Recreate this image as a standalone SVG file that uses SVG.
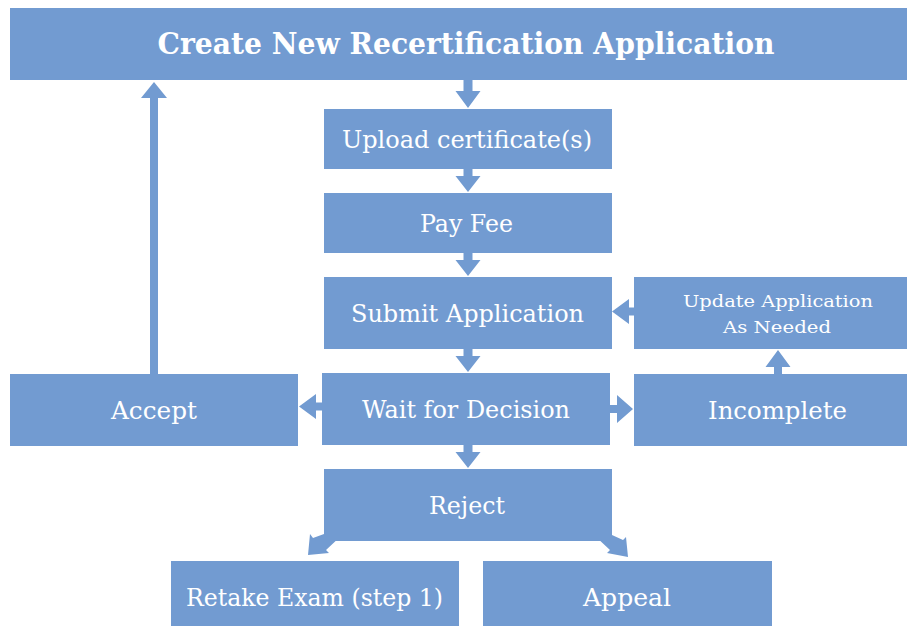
<svg xmlns="http://www.w3.org/2000/svg" width="907" height="626" viewBox="0 0 907 626">
<style>
.box{fill:#729BD1}
.arr{fill:#729BD1}
.t{fill:#FFFFFF;font-family:"DejaVu Serif","Liberation Serif",serif;font-size:24px;text-anchor:middle}
.ts{font-size:17.5px}
.tt{font-size:29px;font-weight:bold}
</style>
<rect width="907" height="626" fill="#FFFFFF"/>
<g id="connectors">
<path class="arr" d="M463.5,80 H472.5 V91 H480.5 L468,108 L455.5,91 H463.5 Z"/>
<path class="arr" d="M463.5,169 H472.5 V176 H480.5 L468,192 L455.5,176 H463.5 Z"/>
<path class="arr" d="M463.5,253 H472.5 V260 H480.5 L468,276 L455.5,260 H463.5 Z"/>
<path class="arr" d="M463.5,349 H472.5 V356 H480.5 L468,372 L455.5,356 H463.5 Z"/>
<path class="arr" d="M463.5,445 H472.5 V452 H480.5 L468,468 L455.5,452 H463.5 Z"/>
<path class="arr" d="M150,374 H158 V98 H167 L154,82 L141,98 H150 Z"/>
<path class="arr" d="M322,402.5 V410.5 H316 V419 L299,406.5 L316,394 V402.5 Z"/>
<path class="arr" d="M610,405 V413 H617 V423 L633,409 L617,395 V405 Z"/>
<path class="arr" d="M634,307.5 V315.5 H629 V324 L612,311.5 L629,299 V307.5 Z"/>
<path class="arr" d="M774,374 H782 V367 H790.5 L778,350 L765.5,367 H774 Z"/>
<path class="arr" d="M335,530 L341,536 L326,550 L329,553 L308,555 L310,534 L313,538 Z"/>
<path class="arr" d="M601,530 L595,536 L610,550 L607,553 L628,557 L626,537 L623,540 Z"/>
</g>
<g id="create">
<rect class="box" x="10" y="8" width="897" height="72"/>
<text class="t tt" x="466" y="54" textLength="617" lengthAdjust="spacingAndGlyphs">Create New Recertification Application</text>
</g>
<g id="upload">
<rect class="box" x="324" y="109" width="288" height="60"/>
<text class="t" x="467" y="148" textLength="250" lengthAdjust="spacingAndGlyphs">Upload certificate(s)</text>
</g>
<g id="payfee">
<rect class="box" x="324" y="193" width="288" height="60"/>
<text class="t" x="466.5" y="232" textLength="93" lengthAdjust="spacingAndGlyphs">Pay Fee</text>
</g>
<g id="submit">
<rect class="box" x="324" y="277" width="288" height="72"/>
<text class="t" x="467.5" y="322" textLength="233" lengthAdjust="spacingAndGlyphs">Submit Application</text>
</g>
<g id="update">
<rect class="box" x="634" y="277" width="273" height="72"/>
<text class="t ts" x="778" y="307" textLength="190" lengthAdjust="spacingAndGlyphs">Update Application</text>
<text class="t ts" x="777" y="333" textLength="108" lengthAdjust="spacingAndGlyphs">As Needed</text>
</g>
<g id="accept">
<rect class="box" x="10" y="374" width="288" height="72"/>
<text class="t" x="154" y="419" textLength="86" lengthAdjust="spacingAndGlyphs">Accept</text>
</g>
<g id="wait">
<rect class="box" x="322" y="373" width="288" height="72"/>
<text class="t" x="466" y="418" textLength="208" lengthAdjust="spacingAndGlyphs">Wait for Decision</text>
</g>
<g id="incomplete">
<rect class="box" x="634" y="374" width="273" height="72"/>
<text class="t" x="777.5" y="419" textLength="139" lengthAdjust="spacingAndGlyphs">Incomplete</text>
</g>
<g id="reject">
<rect class="box" x="324" y="469" width="288" height="72"/>
<text class="t" x="467" y="514" textLength="76" lengthAdjust="spacingAndGlyphs">Reject</text>
</g>
<g id="retake">
<rect class="box" x="171" y="561" width="288" height="65"/>
<text class="t" x="314.5" y="606" textLength="257" lengthAdjust="spacingAndGlyphs">Retake Exam (step 1)</text>
</g>
<g id="appeal">
<rect class="box" x="483" y="561" width="289" height="65"/>
<text class="t" x="627" y="606" textLength="88" lengthAdjust="spacingAndGlyphs">Appeal</text>
</g>
</svg>
